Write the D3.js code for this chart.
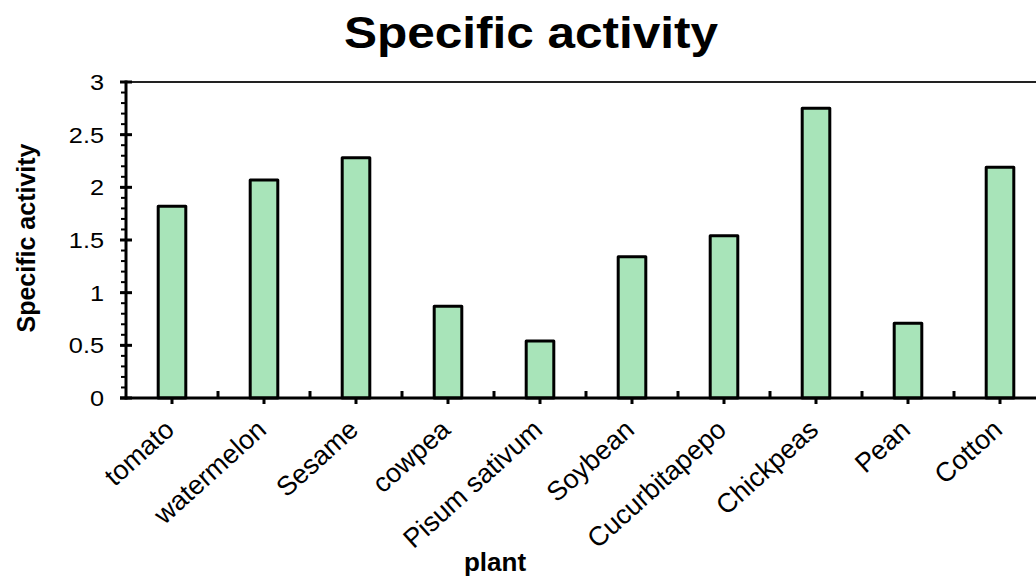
<!DOCTYPE html>
<html>
<head>
<meta charset="utf-8">
<script src="https://cdn.jsdelivr.net/npm/d3@7/dist/d3.min.js"></script>
<style>
  html, body { margin: 0; padding: 0; background: #fff; }
  svg { display: block; font-family: Arial, "Liberation Sans", sans-serif; }
</style>
</head>
<body>
<svg id="chart" width="1036" height="577"></svg>
<script>
// Specific activity per plant
const plants = ["tomato", "watermelon", "Sesame", "cowpea", "Pisum sativum",
                "Soybean", "Cucurbitapepo", "Chickpeas", "Pean", "Cotton"];
const activity = [1.82, 2.07, 2.28, 0.87, 0.54, 1.34, 1.54, 2.75, 0.71, 2.19];
const yTicks = [0, 0.5, 1, 1.5, 2, 2.5, 3];
const yTickLabels = ["0", "0.5", "1", "1.5", "2", "2.5", "3"];

const svg = d3.select("#chart");

const plot = { left: 126, right: 1046, top: 82, bottom: 398 };

const x = d3.scaleBand().domain(plants).range([plot.left, plot.right]);
const y = d3.scaleLinear().domain([0, 3]).range([plot.bottom, plot.top]);

// plot frame (top edge; right edge lies outside the canvas)
svg.append("path")
  .attr("d", `M${plot.left},${plot.top}H${plot.right}V${plot.bottom}`)
  .attr("fill", "none").attr("stroke", "#222").attr("stroke-width", 2);

// bars
const barW = x.bandwidth() * 0.3;
svg.append("g").selectAll("rect").data(plants).join("rect")
  .attr("x", d => x(d) + x.bandwidth() / 2 - barW / 2)
  .attr("width", barW)
  .attr("y", (d, i) => y(activity[i]))
  .attr("height", (d, i) => y(0) - y(activity[i]))
  .attr("fill", "#a8e4b9")
  .attr("stroke", "#000").attr("stroke-width", 3)
  .attr("stroke-linejoin", "round");

// y axis: line, minor ticks every 0.1, major ticks crossing the axis
const yAxisG = svg.append("g");
yAxisG.append("line")
  .attr("x1", plot.left).attr("x2", plot.left)
  .attr("y1", y(0) + 1.5).attr("y2", y(3) - 1.5)
  .attr("stroke", "#000").attr("stroke-width", 3);
const minor = d3.range(0, 31).map(v => v / 10);
yAxisG.selectAll("line.minor").data(minor).join("line")
  .attr("class", "minor")
  .attr("x1", plot.left - 5).attr("x2", plot.left)
  .attr("y1", d => y(d)).attr("y2", d => y(d))
  .attr("stroke", "#000").attr("stroke-width", 2);
yAxisG.selectAll("line.major").data(yTicks).join("line")
  .attr("class", "major")
  .attr("x1", plot.left - 6).attr("x2", plot.left + 6)
  .attr("y1", d => y(d)).attr("y2", d => y(d))
  .attr("stroke", "#000").attr("stroke-width", 3);
yAxisG.selectAll("text").data(yTicks).join("text")
  .attr("transform", d => `translate(104,${y(d)}) scale(1.15,1)`)
  .attr("text-anchor", "end")
  .attr("dy", "0.36em")
  .attr("font-size", 22)
  .attr("fill", "#000")
  .text((d, i) => yTickLabels[i]);

// x axis: baseline, category ticks below, divider ticks above
const xAxisG = svg.append("g");
xAxisG.append("line")
  .attr("x1", plot.left - 6).attr("x2", plot.right)
  .attr("y1", plot.bottom).attr("y2", plot.bottom)
  .attr("stroke", "#000").attr("stroke-width", 3);
xAxisG.selectAll("line.cat").data(plants).join("line")
  .attr("class", "cat")
  .attr("x1", d => x(d) + x.bandwidth() / 2).attr("x2", d => x(d) + x.bandwidth() / 2)
  .attr("y1", plot.bottom).attr("y2", plot.bottom + 6)
  .attr("stroke", "#000").attr("stroke-width", 3);
xAxisG.selectAll("line.div").data(plants.slice(1)).join("line")
  .attr("class", "div")
  .attr("x1", d => x(d)).attr("x2", d => x(d))
  .attr("y1", plot.bottom).attr("y2", plot.bottom - 7)
  .attr("stroke", "#000").attr("stroke-width", 3);
xAxisG.selectAll("text").data(plants).join("text")
  .attr("transform", d => `translate(${x(d) + x.bandwidth() / 2 + 4},${plot.bottom + 34}) rotate(-42)`)
  .attr("text-anchor", "end")
  .attr("font-size", 27)
  .attr("fill", "#000")
  .text(d => d);

// titles
svg.append("text")
  .attr("transform", "translate(531,48) scale(1.1,1)")
  .attr("text-anchor", "middle")
  .attr("font-size", 45).attr("font-weight", "bold")
  .text("Specific activity");

svg.append("text")
  .attr("transform", "translate(35,238) rotate(-90)")
  .attr("text-anchor", "middle")
  .attr("font-size", 25).attr("font-weight", "bold")
  .text("Specific activity");

svg.append("text")
  .attr("x", 495).attr("y", 571)
  .attr("text-anchor", "middle")
  .attr("font-size", 26).attr("font-weight", "bold")
  .text("plant");
</script>
</body>
</html>
